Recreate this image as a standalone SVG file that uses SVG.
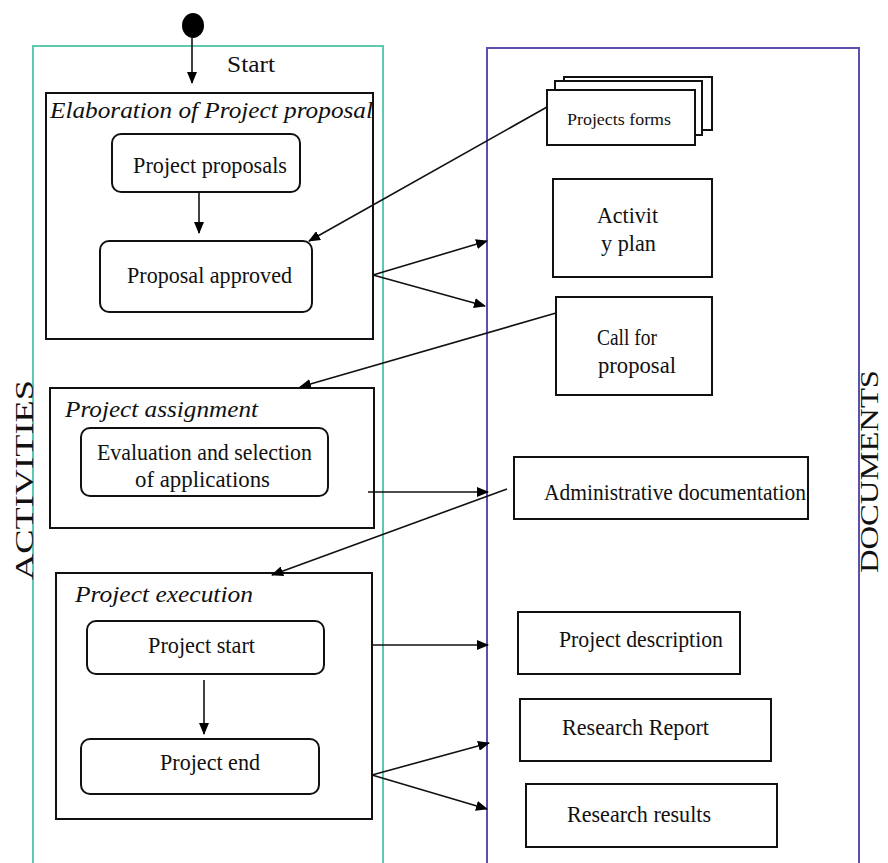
<svg xmlns="http://www.w3.org/2000/svg" width="888" height="863" viewBox="0 0 888 863">
<defs>
<marker id="ah" markerWidth="12" markerHeight="10" refX="11" refY="5" orient="auto" markerUnits="userSpaceOnUse">
<path d="M0,0 L12,5 L0,10 Z" fill="#000"/>
</marker>
<style>
.box{fill:#fff;stroke:#111;stroke-width:2;}
.act{fill:none;stroke:#111;stroke-width:2;}
.lane1{fill:none;stroke:#5cc9b0;stroke-width:2;}
.lane2{fill:none;stroke:#5b4fb0;stroke-width:2;}
.t{font-family:"Liberation Serif",serif;font-size:22.5px;fill:#111;}
.ti{font-family:"Liberation Serif",serif;font-size:24px;font-style:italic;fill:#111;}
.lbl{font-family:"Liberation Serif",serif;font-size:26px;fill:#111;}
.conn line{stroke:#111;stroke-width:1.6;fill:none;}
</style>
</defs>
<rect width="888" height="863" fill="#fff"/>
<g id="lane-activities">
<path class="lane1" d="M33,870 V46 H383 V870"/>
<text class="lbl" transform="translate(33,580) rotate(-90)" textLength="200" lengthAdjust="spacingAndGlyphs">ACTIVITIES</text>
</g>
<g id="lane-documents">
<path class="lane2" d="M487,870 V48 H859 V870"/>
<text class="lbl" transform="translate(878,573) rotate(-90)" textLength="203" lengthAdjust="spacingAndGlyphs">DOCUMENTS</text>
</g>
<g id="start">
<ellipse cx="193" cy="25.5" rx="11" ry="12.5" fill="#000"/>
<text class="t" x="227" y="72" style="font-size:24px" textLength="48" lengthAdjust="spacingAndGlyphs">Start</text>
</g>
<g id="elaboration">
<rect class="box" x="46" y="93" width="327" height="246"/>
<text class="ti" x="50" y="118" textLength="323" lengthAdjust="spacingAndGlyphs">Elaboration of Project proposal</text>
</g>
<g id="project-proposals">
<rect class="act" x="112" y="134" width="188" height="58" rx="9"/>
<text class="t" x="133" y="173" textLength="154" lengthAdjust="spacingAndGlyphs">Project proposals</text>
</g>
<g id="proposal-approved">
<rect class="act" x="100" y="241" width="212" height="71" rx="9"/>
<text class="t" x="127" y="283" textLength="165" lengthAdjust="spacingAndGlyphs">Proposal approved</text>
</g>
<g id="assignment">
<rect class="box" x="50" y="388" width="324" height="140"/>
<text class="ti" x="65" y="417" textLength="193" lengthAdjust="spacingAndGlyphs">Project assignment</text>
</g>
<g id="evaluation">
<rect class="act" x="81" y="428" width="247" height="68" rx="9"/>
<text class="t" x="97" y="460" textLength="215" lengthAdjust="spacingAndGlyphs">Evaluation and selection</text>
<text class="t" x="135" y="487" textLength="135" lengthAdjust="spacingAndGlyphs">of applications</text>
</g>
<g id="execution">
<rect class="box" x="56" y="573" width="316" height="246"/>
<text class="ti" x="75" y="602" textLength="178" lengthAdjust="spacingAndGlyphs">Project execution</text>
</g>
<g id="project-start">
<rect class="act" x="87" y="621" width="237" height="53" rx="9"/>
<text class="t" x="148" y="653" textLength="107" lengthAdjust="spacingAndGlyphs">Project start</text>
</g>
<g id="project-end">
<rect class="act" x="81" y="739" width="238" height="55" rx="9"/>
<text class="t" x="160" y="770" textLength="100" lengthAdjust="spacingAndGlyphs">Project end</text>
</g>
<g id="projects-forms">
<rect class="box" x="564" y="77" width="148" height="53"/>
<rect class="box" x="555" y="81" width="147" height="54"/>
<rect class="box" x="547" y="90" width="148" height="55"/>
<text class="t" x="567" y="125" style="font-size:16px" textLength="104" lengthAdjust="spacingAndGlyphs">Projects forms</text>
</g>
<g id="activity-plan">
<rect class="box" x="553" y="179" width="159" height="98"/>
<text class="t" x="597" y="223" textLength="61" lengthAdjust="spacingAndGlyphs">Activit</text>
<text class="t" x="601" y="251" textLength="55" lengthAdjust="spacingAndGlyphs">y plan</text>
</g>
<g id="call-for-proposal">
<rect class="box" x="556" y="297" width="156" height="98"/>
<text class="t" x="597" y="345" textLength="60" lengthAdjust="spacingAndGlyphs">Call for</text>
<text class="t" x="598" y="373" textLength="78" lengthAdjust="spacingAndGlyphs">proposal</text>
</g>
<g id="administrative-documentation">
<rect class="box" x="514" y="457" width="294" height="62"/>
<text class="t" x="544" y="500" textLength="262" lengthAdjust="spacingAndGlyphs">Administrative documentation</text>
</g>
<g id="project-description">
<rect class="box" x="518" y="612" width="222" height="62"/>
<text class="t" x="559" y="647" textLength="164" lengthAdjust="spacingAndGlyphs">Project description</text>
</g>
<g id="research-report">
<rect class="box" x="520" y="699" width="251" height="62"/>
<text class="t" x="562" y="735" textLength="147" lengthAdjust="spacingAndGlyphs">Research Report</text>
</g>
<g id="research-results">
<rect class="box" x="526" y="784" width="251" height="63"/>
<text class="t" x="567" y="822" textLength="144" lengthAdjust="spacingAndGlyphs">Research results</text>
</g>
<g id="connectors" class="conn">
<line x1="192" y1="38" x2="192" y2="83" marker-end="url(#ah)"/>
<line x1="199" y1="192" x2="199" y2="233" marker-end="url(#ah)"/>
<line x1="547" y1="107" x2="309" y2="241" marker-end="url(#ah)"/>
<line x1="373" y1="275" x2="487" y2="241" marker-end="url(#ah)"/>
<line x1="373" y1="275" x2="485" y2="306" marker-end="url(#ah)"/>
<line x1="556" y1="313" x2="300" y2="387" marker-end="url(#ah)"/>
<line x1="368" y1="492" x2="488" y2="492" marker-end="url(#ah)"/>
<line x1="507" y1="489" x2="272" y2="575" marker-end="url(#ah)"/>
<line x1="204" y1="680" x2="204" y2="734" marker-end="url(#ah)"/>
<line x1="371" y1="645" x2="488" y2="645" marker-end="url(#ah)"/>
<line x1="372" y1="775" x2="489" y2="743" marker-end="url(#ah)"/>
<line x1="372" y1="775" x2="487" y2="809" marker-end="url(#ah)"/>
</g>
</svg>
